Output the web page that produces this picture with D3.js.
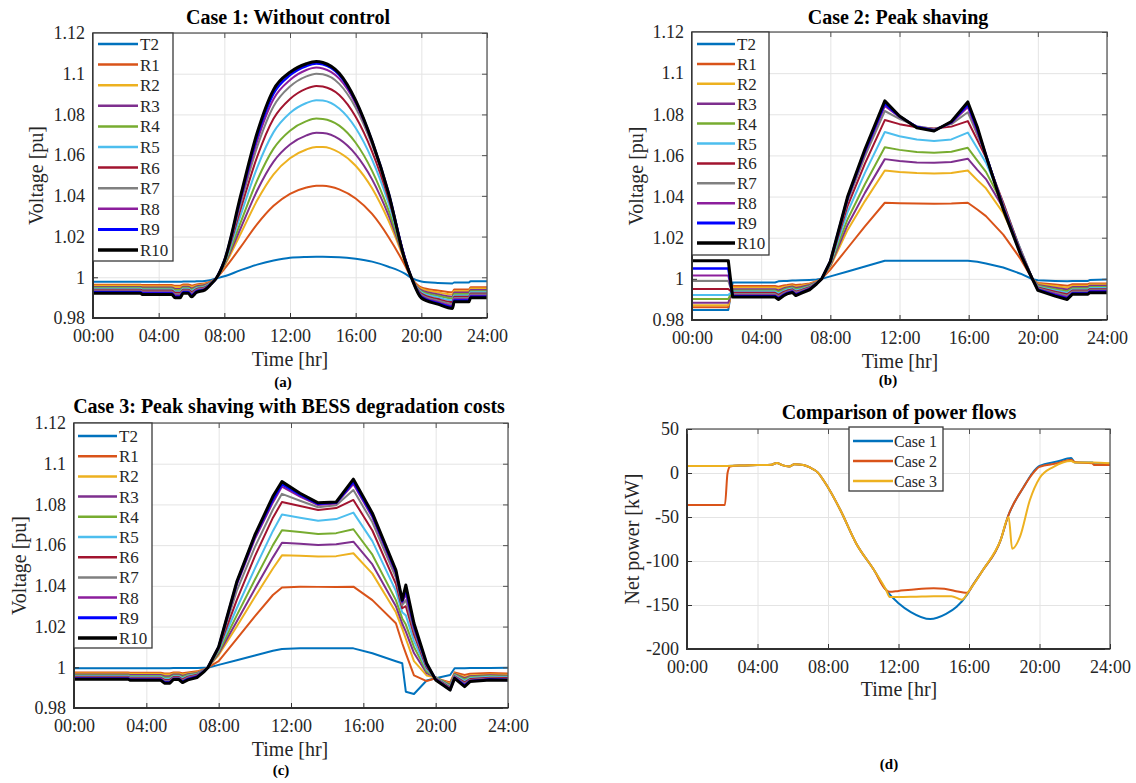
<!DOCTYPE html>
<html>
<head>
<meta charset="utf-8">
<script src="https://cdn.jsdelivr.net/npm/d3@7"></script>
<style>
  body { margin: 0; background: #fff; }
  svg { display: block; }
</style>
</head>
<body>
<svg id="chart" width="1136" height="783"></svg>
<script>
// ---------- shared axis values ----------
const timeTickHours = [0, 4, 8, 12, 16, 20, 24];
const timeTickLabels = ["00:00", "04:00", "08:00", "12:00", "16:00", "20:00", "24:00"];
const voltTicks = [0.98, 1.0, 1.02, 1.04, 1.06, 1.08, 1.1, 1.12];
const voltTickLabels = ["0.98", "1", "1.02", "1.04", "1.06", "1.08", "1.1", "1.12"];
const powerTicks = [-200, -150, -100, -50, 0, 50];
const powerTickLabels = ["-200", "-150", "-100", "-50", "0", "50"];

const busNames = ["T2", "R1", "R2", "R3", "R4", "R5", "R6", "R7", "R8", "R9", "R10"];
const caseNames = ["Case 1", "Case 2", "Case 3"];

// ---------- Case 1: without control (bus voltages, pu) ----------
const hoursCase1 = [0, 2.9, 3.0, 4.8, 5.0, 5.3, 5.5, 5.8, 6.0, 6.3, 6.8, 7.2, 7.5,
  8, 9, 10, 11, 12, 13, 13.6, 14, 15, 16, 17, 18, 19, 19.4,
  20, 21, 21.9, 22, 22.9, 23, 24];
const case1Voltages = [
  // T2
  [.9978, .9978, .9978, .9978, .9978, .9978, .9979, .9979, .9979, .9980, .9982, .9987, .9994,
   1.0005, 1.0035, 1.0062, 1.0082, 1.0096, 1.0100, 1.0101, 1.0101, 1.0099, 1.0091, 1.0077, 1.0052, 1.0018, .9997,
   .9979, .9972, .9970, .9975, .9975, .9981, .9981],
  // R1
  [.9963, .9963, .9962, .9962, .9958, .9958, .9964, .9964, .9960, .9965, .9970, .9980, .9994,
   1.0041, 1.0149, 1.0261, 1.0351, 1.0410, 1.0441, 1.0450, 1.0450, 1.0432, 1.0387, 1.0311, 1.0198, 1.0059, .9997,
   .9950, .9935, .9926, .9940, .9940, .9951, .9951],
  // R2
  [.9958, .9958, .9956, .9956, .9951, .9951, .9958, .9958, .9953, .9960, .9966, .9978, .9994,
   1.0056, 1.0215, 1.0378, 1.0506, 1.0585, 1.0628, 1.0640, 1.0640, 1.0613, 1.0548, 1.0437, 1.0278, 1.0079, .9997,
   .9944, .9926, .9916, .9933, .9933, .9945, .9945],
  // R3
  [.9952, .9952, .9950, .9950, .9943, .9943, .9953, .9953, .9946, .9955, .9962, .9976, .9994,
   1.0062, 1.0242, 1.0426, 1.0568, 1.0652, 1.0697, 1.0710, 1.0709, 1.0679, 1.0604, 1.0481, 1.0305, 1.0084, .9997,
   .9937, .9917, .9905, .9925, .9925, .9938, .9938],
  // R4
  [.9948, .9948, .9945, .9945, .9937, .9937, .9948, .9948, .9940, .9950, .9958, .9974, .9994,
   1.0066, 1.0271, 1.0476, 1.0632, 1.0720, 1.0767, 1.0780, 1.0778, 1.0745, 1.0661, 1.0523, 1.0330, 1.0088, .9997,
   .9931, .9909, .9896, .9918, .9918, .9932, .9932],
  // R5
  [.9944, .9944, .9940, .9940, .9930, .9930, .9944, .9944, .9934, .9946, .9954, .9973, .9994,
   1.0072, 1.0306, 1.0539, 1.0713, 1.0807, 1.0856, 1.0870, 1.0868, 1.0829, 1.0733, 1.0578, 1.0364, 1.0094, .9997,
   .9926, .9901, .9887, .9911, .9911, .9926, .9926],
  // R6
  [.9939, .9939, .9935, .9935, .9924, .9924, .9939, .9939, .9928, .9942, .9950, .9971, .9994,
   1.0077, 1.0337, 1.0592, 1.0780, 1.0876, 1.0927, 1.0940, 1.0937, 1.0895, 1.0788, 1.0617, 1.0387, 1.0096, .9997,
   .9920, .9893, .9878, .9904, .9904, .9920, .9920],
  // R7
  [.9935, .9935, .9930, .9930, .9917, .9917, .9935, .9935, .9922, .9938, .9946, .9970, .9994,
   1.0080, 1.0363, 1.0640, 1.0840, 1.0937, 1.0987, 1.1000, 1.0997, 1.0950, 1.0833, 1.0650, 1.0407, 1.0097, .9997,
   .9914, .9886, .9869, .9898, .9898, .9915, .9915],
  // R8
  [.9930, .9930, .9925, .9925, .9911, .9911, .9930, .9930, .9916, .9934, .9943, .9969, .9994,
   1.0080, 1.0380, 1.0670, 1.0876, 1.0969, 1.1018, 1.1030, 1.1026, 1.0976, 1.0854, 1.0662, 1.0413, 1.0094, .9997,
   .9908, .9879, .9861, .9892, .9892, .9909, .9909],
  // R9
  [.9926, .9926, .9920, .9920, .9905, .9905, .9926, .9926, .9910, .9930, .9940, .9968, .9994,
   1.0081, 1.0393, 1.0693, 1.0903, 1.0993, 1.1038, 1.1050, 1.1046, 1.0994, 1.0865, 1.0669, 1.0416, 1.0090, .9997,
   .9903, .9873, .9854, .9886, .9886, .9904, .9904],
  // R10
  [.9921, .9921, .9916, .9916, .9899, .9899, .9922, .9922, .9904, .9926, .9937, .9967, .9994,
   1.0080, 1.0403, 1.0710, 1.0922, 1.1007, 1.1049, 1.1060, 1.1055, 1.1002, 1.0869, 1.0668, 1.0413, 1.0085, .9997,
   .9898, .9868, .9847, .9880, .9880, .9899, .9899]
];

// ---------- Case 2: peak shaving (bus voltages, pu) ----------
const hoursCase2 = [0, 2.1, 2.35, 3.0, 4.8, 5.0, 5.3, 5.5, 5.8, 6.0, 6.3, 6.8, 7.2, 7.5,
  8, 9, 10, 11.15, 12, 13, 14, 15, 15.95, 16.5, 17, 18, 19, 19.7,
  20, 21, 21.7, 22, 22.9, 23, 24];
const case2Voltages = [
  // T2
  [.9849, .9849, .9982, .9982, .9982, .9988, .9989, .9990, .9992, .9992, .9993, .9995, .9997, 1.0000,
   1.0012, 1.0036, 1.0060, 1.0088, 1.0088, 1.0088, 1.0088, 1.0088, 1.0088, 1.0083, 1.0075, 1.0055, 1.0025, .9998,
   .9993, .9990, .9988, .9990, .9990, .9994, .9997],
  // R1
  [.9862, .9862, .9965, .9965, .9965, .9962, .9968, .9970, .9974, .9970, .9972, .9978, .9988, 1.0000,
   1.0045, 1.0150, 1.0255, 1.0370, 1.0368, 1.0366, 1.0365, 1.0366, 1.0370, 1.0337, 1.0305, 1.0215, 1.0097, .9997,
   .9980, .9972, .9966, .9974, .9974, .9978, .9978],
  // R2
  [.9872, .9872, .9958, .9958, .9958, .9953, .9961, .9964, .9968, .9963, .9966, .9974, .9986, 1.0000,
   1.0060, 1.0238, 1.0378, 1.0527, 1.0520, 1.0514, 1.0512, 1.0515, 1.0527, 1.0480, 1.0440, 1.0320, 1.0140, .9997,
   .9975, .9965, .9957, .9967, .9967, .9972, .9972],
  // R3
  [.9884, .9884, .9950, .9950, .9950, .9944, .9954, .9958, .9963, .9956, .9960, .9970, .9984, 1.0000,
   1.0065, 1.0262, 1.0418, 1.0582, 1.0573, 1.0566, 1.0564, 1.0568, 1.0584, 1.0530, 1.0485, 1.0345, 1.0145, .9997,
   .9970, .9957, .9948, .9960, .9960, .9966, .9966],
  // R4
  [.9902, .9902, .9944, .9944, .9944, .9936, .9948, .9953, .9958, .9950, .9955, .9966, .9982, 1.0000,
   1.0070, 1.0290, 1.0460, 1.0640, 1.0627, 1.0617, 1.0613, 1.0618, 1.0637, 1.0575, 1.0520, 1.0360, 1.0140, .9997,
   .9966, .9950, .9940, .9954, .9954, .9960, .9960],
  // R5
  [.9922, .9922, .9938, .9938, .9938, .9929, .9942, .9948, .9953, .9944, .9950, .9962, .9980, 1.0000,
   1.0075, 1.0325, 1.0515, 1.0714, 1.0693, 1.0677, 1.0670, 1.0678, 1.0711, 1.0635, 1.0565, 1.0370, 1.0140, .9997,
   .9962, .9944, .9932, .9948, .9948, .9955, .9955],
  // R6
  [.9951, .9951, .9932, .9932, .9932, .9922, .9937, .9943, .9949, .9938, .9945, .9959, .9979, 1.0000,
   1.0080, 1.0355, 1.0560, 1.0772, 1.0752, 1.0737, 1.0731, 1.0740, 1.0767, 1.0675, 1.0590, 1.0370, 1.0135, .9997,
   .9958, .9938, .9925, .9943, .9943, .9950, .9950],
  // R7
  [.9990, .9990, .9926, .9926, .9926, .9915, .9931, .9938, .9945, .9933, .9941, .9956, .9978, 1.0000,
   1.0083, 1.0378, 1.0595, 1.0816, 1.0778, 1.0742, 1.0729, 1.0752, 1.0810, 1.0700, 1.0600, 1.0360, 1.0130, .9997,
   .9954, .9932, .9918, .9938, .9938, .9945, .9945],
  // R8
  [1.0016, 1.0016, .9920, .9920, .9920, .9909, .9926, .9934, .9941, .9928, .9937, .9953, .9977, 1.0000,
   1.0085, 1.0390, 1.0613, 1.0840, 1.0787, 1.0740, 1.0724, 1.0758, 1.0835, 1.0715, 1.0602, 1.0350, 1.0125, .9997,
   .9950, .9926, .9911, .9933, .9933, .9941, .9941],
  // R9
  [1.0050, 1.0050, .9916, .9916, .9916, .9904, .9922, .9930, .9937, .9923, .9933, .9950, .9976, 1.0000,
   1.0085, 1.0395, 1.0622, 1.0852, 1.0790, 1.0738, 1.0721, 1.0762, 1.0848, 1.0728, 1.0601, 1.0344, 1.0122, .9997,
   .9947, .9921, .9905, .9929, .9929, .9937, .9937],
  // R10
  [1.0088, 1.0088, .9912, .9912, .9912, .9900, .9918, .9927, .9934, .9919, .9930, .9947, .9975, 1.0000,
   1.0085, 1.0400, 1.0630, 1.0865, 1.0792, 1.0735, 1.0719, 1.0765, 1.0860, 1.0738, 1.0599, 1.0338, 1.0119, .9997,
   .9944, .9916, .9900, .9925, .9925, .9933, .9933]
];

// ---------- Case 3: peak shaving with BESS degradation costs (bus voltages, pu) ----------
const hoursCase3 = [0, 3.0, 3.1, 4.8, 5.0, 5.3, 5.5, 5.8, 6.0, 6.3, 6.8, 7.2, 7.4,
  8, 9, 10, 11, 11.5, 12.5, 13.5, 14.5, 15.45, 16.5, 17.8, 18.15, 18.35, 18.8, 19.5,
  20, 20.8, 21.05, 21.6, 21.9, 23, 24];
const case3Voltages = [
  // T2
  [.9995, .9995, .9995, .9995, .9995, .9995, .9996, .9996, .9996, .9996, .9997, .9998, .9998,
   1.0012, 1.0035, 1.0058, 1.0081, 1.0090, 1.0093, 1.0093, 1.0093, 1.0093,
   1.0069, 1.0030, 1.0020, .9880, .9869, .9935,
   .9946, .9962, .9995, .9995, .9996, .9997, .9998],
  // R1
  [.9974, .9974, .9973, .9973, .9970, .9970, .9975, .9975, .9971, .9975, .9980, .9990, .9998,
   1.0030, 1.0140, 1.0250, 1.0355, 1.0392, 1.0396, 1.0395, 1.0394, 1.0396,
   1.0330, 1.0216, 1.0118, 1.0068, .9960, .9932,
   .9946, .9925, .9975, .9962, .9968, .9972, .9970],
  // R2
  [.9970, .9970, .9968, .9968, .9964, .9964, .9970, .9970, .9965, .9970, .9976, .9988, .9998,
   1.0060, 1.0200, 1.0345, 1.0485, 1.0550, 1.0548, 1.0544, 1.0546, 1.0560,
   1.0460, 1.0270, 1.0190, 1.0140, 1.0030, .9960,
   .9950, .9918, .9970, .9952, .9960, .9965, .9963],
  // R3
  [.9965, .9965, .9962, .9962, .9956, .9956, .9965, .9965, .9958, .9966, .9972, .9987, .9998,
   1.0068, 1.0225, 1.0385, 1.0540, 1.0612, 1.0607, 1.0601, 1.0604, 1.0617,
   1.0505, 1.0300, 1.0215, 1.0175, 1.0070, .9972,
   .9950, .9914, .9967, .9946, .9956, .9961, .9959],
  // R4
  [.9961, .9961, .9957, .9957, .9950, .9950, .9960, .9960, .9952, .9962, .9969, .9985, .9998,
   1.0075, 1.0255, 1.0430, 1.0600, 1.0673, 1.0664, 1.0655, 1.0659, 1.0678,
   1.0553, 1.0330, 1.0240, 1.0210, 1.0100, .9980,
   .9950, .9910, .9964, .9940, .9952, .9957, .9955],
  // R5
  [.9957, .9957, .9953, .9953, .9944, .9944, .9956, .9956, .9946, .9958, .9966, .9984, .9998,
   1.0085, 1.0290, 1.0485, 1.0670, 1.0750, 1.0735, 1.0720, 1.0728, 1.0760,
   1.0620, 1.0375, 1.0270, 1.0255, 1.0130, .9990,
   .9948, .9905, .9960, .9933, .9947, .9953, .9951],
  // R6
  [.9953, .9953, .9948, .9948, .9938, .9938, .9952, .9952, .9940, .9954, .9963, .9983, .9998,
   1.0090, 1.0330, 1.0545, 1.0735, 1.0812, 1.0792, 1.0773, 1.0782, 1.0822,
   1.0672, 1.0410, 1.0290, 1.0300, 1.0160, 1.0000,
   .9946, .9900, .9956, .9926, .9942, .9949, .9947],
  // R7
  [.9950, .9950, .9945, .9945, .9933, .9933, .9948, .9948, .9935, .9950, .9960, .9982, .9998,
   1.0095, 1.0375, 1.0590, 1.0775, 1.0852, 1.0818, 1.0786, 1.0796, 1.0871,
   1.0712, 1.0440, 1.0305, 1.0330, 1.0180, 1.0005,
   .9944, .9896, .9953, .9920, .9938, .9945, .9943],
  // R8
  [.9947, .9947, .9942, .9942, .9929, .9929, .9945, .9945, .9931, .9946, .9957, .9981, .9998,
   1.0098, 1.0405, 1.0630, 1.0810, 1.0888, 1.0838, 1.0797, 1.0805, 1.0900,
   1.0737, 1.0460, 1.0318, 1.0360, 1.0195, 1.0010,
   .9942, .9893, .9950, .9915, .9935, .9942, .9940],
  // R9
  [.9944, .9944, .9939, .9939, .9925, .9925, .9942, .9942, .9928, .9942, .9954, .9980, .9998,
   1.0099, 1.0415, 1.0645, 1.0825, 1.0900, 1.0848, 1.0803, 1.0809, 1.0912,
   1.0748, 1.0470, 1.0325, 1.0385, 1.0205, 1.0015,
   .9940, .9890, .9948, .9910, .9932, .9940, .9938],
  // R10
  [.9941, .9941, .9936, .9936, .9922, .9922, .9940, .9940, .9925, .9938, .9950, .9979, .9998,
   1.0100, 1.0420, 1.0650, 1.0840, 1.0912, 1.0855, 1.0808, 1.0812, 1.0924,
   1.0757, 1.0478, 1.0330, 1.0404, 1.0216, 1.0020,
   .9938, .9888, .9946, .9905, .9930, .9938, .9936]
];

// ---------- net power at the transformer (kW) ----------
const powerHoursCase1 = [0, 2, 3, 4, 4.8, 5.1, 5.4, 5.8, 6.1, 6.6, 7.0, 7.4, 7.8, 8.7, 9.6,
  10.6, 11.3, 12.0, 12.7, 13.8, 14.7, 15.3, 15.9, 16.2, 16.8, 17.8, 18.2, 19.1, 19.6, 20.0,
  21.0, 21.8, 22.0, 23.0, 23.1, 24];
const powerCase1 = [8, 8, 8.5, 9, 9.5, 11.5, 9, 7.5, 10, 9, 6, 1, -10, -42, -80,
  -110, -133, -148, -158, -166, -160, -152, -138, -128, -110, -76, -50, -16, 0, 8,
  13, 17, 12, 12, 10, 10.5];

const powerHoursCase2 = [0, 2.15, 2.3, 2.45, 3, 4, 4.8, 5.1, 5.4, 5.8, 6.1, 6.6, 7.0, 7.4, 7.8,
  8.7, 9.6, 10.6, 11.3, 11.5, 12, 13, 14, 14.6, 15.2, 15.9, 16.2, 16.8, 17.8, 18.2,
  19.1, 19.6, 20.0, 21.0, 21.8, 22.0, 23.0, 23.1, 24];
const powerCase2 = [-36.5, -36.5, 0, 7.5, 8.5, 9, 9.5, 11.5, 9, 7.5, 10, 9, 6, 1, -10,
  -42, -80, -110, -133, -135, -134, -132, -131, -131.5, -134, -136, -128, -110, -76, -50,
  -16, -1, 7, 11, 15, 12.5, 11, 9, 9];

const powerHoursCase3 = [0, 2, 3, 4, 4.8, 5.1, 5.4, 5.8, 6.1, 6.6, 7.0, 7.4, 7.8, 8.7, 9.6,
  10.6, 11.3, 11.5, 12, 13, 14, 15, 15.6, 16.0, 16.8, 17.8, 18.25, 18.45, 18.9, 19.45,
  20.0, 20.8, 21.8, 22.0, 23.0, 24];
const powerCase3 = [8, 8, 8.5, 9, 9.5, 11.5, 9, 7.5, 10, 9, 6, 1, -10, -42, -80,
  -110, -133, -141, -141, -140.5, -140, -140, -144, -134, -110, -76, -50, -86, -72, -31,
  -6, 7, 13.5, 12, 12, 11];

// ---------- styling ----------
const FONT = "'Liberation Serif', 'Times New Roman', serif";
const busColors = ["#0072BD", "#D95319", "#EDB120", "#7E2F8E", "#77AC30", "#4DBEEE",
  "#A2142F", "#808080", "#8C1E9C", "#0000FF", "#000000"];
const busWidths = [2, 2, 2, 2, 2, 2, 2, 2, 2, 2.5, 3];
const caseColors = ["#0072BD", "#D95319", "#EDB120"];
const caseWidths = [2, 2, 2];
const GRID = "#e4e4e4";
const TICK_TEXT = "#262626";

const svg = d3.select("#chart");

function styleAxis(sel, lineColor) {
  sel.attr("font-family", null).attr("font-size", null);
  sel.select(".domain").remove();
  sel.selectAll(".tick line").attr("stroke", lineColor);
  sel.selectAll(".tick text")
    .attr("fill", TICK_TEXT)
    .style("font-family", FONT)
    .style("font-size", "18px");
}

function drawPanel(cfg) {
  const f = cfg.frame;
  const w = f.right - f.left, h = f.bottom - f.top;
  const x = d3.scaleLinear().domain([0, 24]).range([f.left, f.right]);
  const y = d3.scaleLinear().domain(cfg.yDomain).range([f.bottom, f.top]);
  const g = svg.append("g");

  // background grid
  g.append("g").attr("transform", `translate(0,${f.bottom})`)
    .call(d3.axisBottom(x).tickValues(timeTickHours).tickSize(-h).tickFormat(""))
    .call(s => styleAxis(s, GRID));
  g.append("g").attr("transform", `translate(${f.left},0)`)
    .call(d3.axisLeft(y).tickValues(cfg.yTicks).tickSize(-w).tickFormat(""))
    .call(s => styleAxis(s, GRID));

  // data lines
  const clipId = "clip-" + cfg.id;
  svg.append("clipPath").attr("id", clipId)
    .append("rect").attr("x", f.left).attr("y", f.top).attr("width", w).attr("height", h);
  const lineLayer = g.append("g").attr("clip-path", `url(#${clipId})`);
  cfg.series.forEach(s => {
    const line = d3.line()
      .x((d, j) => x(s.hours[j]))
      .y(d => y(d))
      .curve(cfg.curve || d3.curveLinear);
    lineLayer.append("path")
      .datum(s.values)
      .attr("d", line)
      .attr("fill", "none")
      .attr("stroke", s.color)
      .attr("stroke-width", s.width)
      .attr("stroke-linejoin", "round")
      .attr("stroke-linecap", "round");
  });

  // box
  g.append("rect")
    .attr("x", f.left).attr("y", f.top).attr("width", w).attr("height", h)
    .attr("fill", "none").attr("stroke", "#5a5a5a").attr("stroke-width", 1.3);
  g.append("path")
    .attr("d", `M${f.left},${f.top}V${f.bottom}H${f.right}`)
    .attr("fill", "none").attr("stroke", "#303030").attr("stroke-width", 2);

  // tick marks and labels
  g.append("g").attr("transform", `translate(0,${f.bottom})`)
    .call(d3.axisBottom(x).tickValues(timeTickHours)
      .tickFormat((d, i) => timeTickLabels[i])
      .tickSizeInner(-5).tickSizeOuter(0).tickPadding(11.5))
    .call(s => styleAxis(s, "#303030"));
  g.append("g").attr("transform", `translate(${f.left},0)`)
    .call(d3.axisLeft(y).tickValues(cfg.yTicks)
      .tickFormat((d, i) => cfg.yTickLabels[i])
      .tickSizeInner(-5).tickSizeOuter(0).tickPadding(8))
    .call(s => styleAxis(s, "#303030"));
  g.append("g").attr("transform", `translate(0,${f.top})`)
    .call(d3.axisTop(x).tickValues(timeTickHours).tickFormat("")
      .tickSizeInner(-5).tickSizeOuter(0))
    .call(s => styleAxis(s, "#505050"));
  g.append("g").attr("transform", `translate(${f.right},0)`)
    .call(d3.axisRight(y).tickValues(cfg.yTicks).tickFormat("")
      .tickSizeInner(-5).tickSizeOuter(0))
    .call(s => styleAxis(s, "#505050"));

  // title and axis captions
  g.append("text")
    .attr("x", cfg.titleX).attr("y", cfg.titleY)
    .attr("text-anchor", "middle")
    .style("font-family", FONT).style("font-size", "20px").style("font-weight", "bold")
    .attr("fill", "#000")
    .text(cfg.title);
  g.append("text")
    .attr("x", cfg.xLabelX).attr("y", f.bottom + cfg.xLabelGap)
    .attr("text-anchor", "middle")
    .style("font-family", FONT).style("font-size", "20px")
    .attr("fill", TICK_TEXT)
    .text("Time [hr]");
  g.append("text")
    .attr("transform", `translate(${cfg.yLabelX},${(f.top + f.bottom) / 2}) rotate(-90)`)
    .attr("text-anchor", "middle")
    .style("font-family", FONT).style("font-size", "20px")
    .attr("fill", TICK_TEXT)
    .text(cfg.yLabel);
  g.append("text")
    .attr("x", cfg.letterX).attr("y", cfg.letterY)
    .attr("text-anchor", "middle")
    .style("font-family", FONT).style("font-size", "15px").style("font-weight", "bold")
    .attr("fill", "#000")
    .text(cfg.letter);

  // legend
  const L = cfg.legend;
  const lg = g.append("g").attr("transform", `translate(${L.x},${L.y})`);
  lg.append("rect")
    .attr("width", L.w).attr("height", L.h)
    .attr("fill", "#fff").attr("stroke", "#3a3a3a").attr("stroke-width", 1.3);
  cfg.series.forEach((s, i) => {
    const ry = L.row0 + i * L.step;
    lg.append("line")
      .attr("x1", L.line0).attr("x2", L.line1).attr("y1", ry).attr("y2", ry)
      .attr("stroke", s.color).attr("stroke-width", s.width + 0.5);
    lg.append("text")
      .attr("x", L.textX).attr("y", ry + 6)
      .style("font-family", FONT).style("font-size", L.fontSize)
      .attr("fill", TICK_TEXT)
      .text(s.name);
  });
}

function busSeries(hours, rows) {
  return rows.map((values, i) => ({
    name: busNames[i], hours, values, color: busColors[i], width: busWidths[i]
  }));
}

drawPanel({
  id: "a",
  frame: { left: 93, top: 33, right: 487, bottom: 318 },
  yDomain: [0.98, 1.12], yTicks: voltTicks, yTickLabels: voltTickLabels,
  series: busSeries(hoursCase1, case1Voltages),
  curve: d3.curveMonotoneX,
  title: "Case 1: Without control", titleX: 288, titleY: 24,
  xLabelX: 290, xLabelGap: 48, yLabel: "Voltage [pu]", yLabelX: 43,
  letter: "(a)", letterX: 283, letterY: 387,
  legend: { x: 93, y: 33, w: 80, h: 228, row0: 11, step: 20.6, line0: 5, line1: 45, textX: 47, fontSize: "17px" }
});

drawPanel({
  id: "b",
  frame: { left: 692, top: 32, right: 1107, bottom: 320 },
  yDomain: [0.98, 1.12], yTicks: voltTicks, yTickLabels: voltTickLabels,
  series: busSeries(hoursCase2, case2Voltages),
  title: "Case 2: Peak shaving", titleX: 898, titleY: 24,
  xLabelX: 900, xLabelGap: 48, yLabel: "Voltage [pu]", yLabelX: 643,
  letter: "(b)", letterX: 888, letterY: 385,
  legend: { x: 692, y: 32, w: 77, h: 223, row0: 12, step: 19.9, line0: 5, line1: 43, textX: 45, fontSize: "17px" }
});

drawPanel({
  id: "c",
  frame: { left: 74, top: 423, right: 508, bottom: 708 },
  yDomain: [0.98, 1.12], yTicks: voltTicks, yTickLabels: voltTickLabels,
  series: busSeries(hoursCase3, case3Voltages),
  title: "Case 3: Peak shaving with BESS degradation costs", titleX: 289, titleY: 413,
  xLabelX: 290, xLabelGap: 48, yLabel: "Voltage [pu]", yLabelX: 26,
  letter: "(c)", letterX: 281, letterY: 775,
  legend: { x: 74, y: 423, w: 78, h: 225, row0: 13, step: 20.2, line0: 4, line1: 43, textX: 45, fontSize: "17px" }
});

drawPanel({
  id: "d",
  frame: { left: 687, top: 429, right: 1110, bottom: 649 },
  yDomain: [-200, 50], yTicks: powerTicks, yTickLabels: powerTickLabels,
  series: [
    { name: caseNames[0], hours: powerHoursCase1, values: powerCase1, color: caseColors[0], width: caseWidths[0] },
    { name: caseNames[1], hours: powerHoursCase2, values: powerCase2, color: caseColors[1], width: caseWidths[1] },
    { name: caseNames[2], hours: powerHoursCase3, values: powerCase3, color: caseColors[2], width: caseWidths[2] }
  ],
  curve: d3.curveMonotoneX,
  title: "Comparison of power flows", titleX: 899, titleY: 419,
  xLabelX: 899, xLabelGap: 47, yLabel: "Net power [kW]", yLabelX: 639,
  letter: "(d)", letterX: 889, letterY: 769,
  legend: { x: 849, y: 427, w: 94, h: 64, row0: 14, step: 20, line0: 4, line1: 44, textX: 45, fontSize: "16px" }
});
</script>
</body>
</html>
